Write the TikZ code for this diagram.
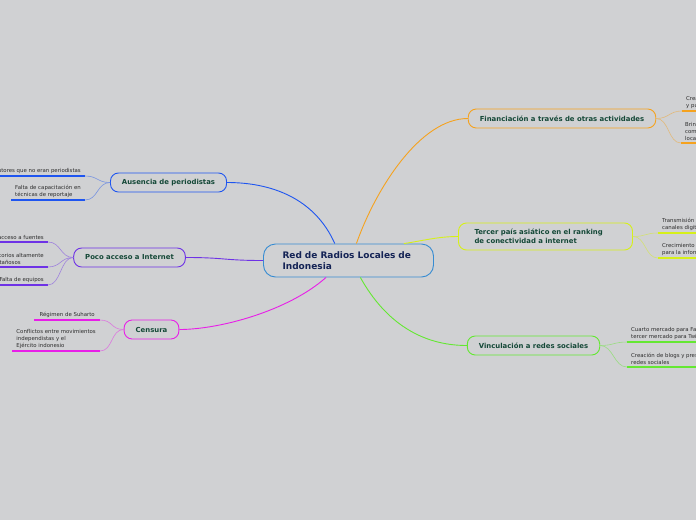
\documentclass[tikz,border=0pt]{standalone}
\usepackage{fontspec}
\setmainfont{DejaVu Sans}
\definecolor{bgcol}{RGB}{208,209,211}
\definecolor{rootcol}{RGB}{55,140,210}
\definecolor{roottext}{RGB}{20,35,85}
\definecolor{topictext}{RGB}{20,72,55}
\definecolor{subtext}{RGB}{45,45,45}
\definecolor{orangecol}{RGB}{245,162,30}
\definecolor{limecol}{RGB}{214,240,25}
\definecolor{greencol}{RGB}{100,232,50}
\definecolor{bluecol}{RGB}{30,85,240}
\definecolor{purplecol}{RGB}{110,50,230}
\definecolor{magentacol}{RGB}{232,30,232}
\tikzset{
  topic/.style={draw,line width=0.9pt,rounded corners=8pt,minimum height=19pt,inner xsep=11.5pt,
    font=\fontsize{6.9}{9}\selectfont\bfseries,text=topictext},
  sub/.style={inner xsep=4pt,inner ysep=2.5pt,align=left,font=\fontsize{5.4}{7}\selectfont,text=subtext},
  branch/.style={line width=0.9pt},
  twig/.style={line width=0.6pt},
  uline/.style={line width=1.5pt}
}
\begin{document}
\begin{tikzpicture}[x=1pt,y=-1pt]
\clip (0,0) rectangle (696,520);
\fill[bgcol] (0,0) rectangle (696,520);
% main topic and subtopics
\node[topic,draw=rootcol,text=roottext,font=\fontsize{9}{11}\selectfont\bfseries,align=left,
  text width=132pt,inner xsep=19pt,minimum height=33pt,rounded corners=12pt] (root) at (348.5,260.5)
  {Red de Radios Locales de\\Indonesia};
\node[topic,draw=orangecol] (fin) at (562,118.5) {Financiación a través de otras actividades};
\node[topic,draw=limecol,align=left,text width=142pt,inner xsep=16pt,minimum height=27pt] (ter) at (545.5,236.5)
  {Tercer país asiático en el ranking\\de conectividad a internet};
\node[topic,draw=greencol] (vin) at (533.5,345.5) {Vinculación a redes sociales};
\node[topic,draw=bluecol] (aus) at (168.5,182.5) {Ausencia de periodistas};
\node[topic,draw=purplecol] (poc) at (129.5,257.5) {Poco acceso a Internet};
\node[topic,draw=magentacol] (cen) at (151.5,329.5) {Censura};

\draw[branch,orangecol] (root.65) .. controls +(19,-54) and +(-48,0) .. (fin.west);
\draw[branch,limecol] (root.17) .. controls +(20,-3) and +(-20,0) .. (ter.west);
\draw[branch,greencol] (root.-55) .. controls +(25,45) and +(-45,0) .. (vin.west);
\draw[branch,bluecol] (root.129) .. controls +(-20,-45) and +(45,0) .. (aus.east);
\draw[branch,purplecol] (root.west) .. controls +(-40,0) and +(40,0) .. (poc.east);
\draw[branch,magentacol] (root.217) .. controls +(-37,33) and +(41,0) .. (cen.east);

% left side
\node[sub,anchor=south east] (aus1) at (85,176) {Locutores que no eran periodistas};
\node[sub,anchor=south east] (aus2) at (85,200) {Falta de capacitación en\\técnicas de reportaje};
\node[sub,anchor=south east] (poc1) at (48,242) {Difícil acceso a fuentes};
\node[sub,anchor=south east] (poc2) at (48,267) {Territorios altamente\\montañosos};
\node[sub,anchor=south east] (poc3) at (48,285) {Falta de equipos};
\node[sub,anchor=south east,inner xsep=5pt] (cen1) at (100,320) {Régimen de Suharto};
\node[sub,anchor=south east,inner xsep=4pt] (cen2) at (100,351) {Conflictos entre movimientos\\independistas y el\\Ejército indonesio};
\foreach \n/\c in {aus1/bluecol,aus2/bluecol,poc1/purplecol,poc2/purplecol,poc3/purplecol,cen1/magentacol,cen2/magentacol}
  \draw[uline,\c] (\n.south west) -- (\n.south east);
\foreach \t/\n/\c in {aus/aus1/bluecol,aus/aus2/bluecol,poc/poc1/purplecol,poc/poc2/purplecol,poc/poc3/purplecol,cen/cen1/magentacol,cen/cen2/magentacol}
  \draw[twig,\c!50!bgcol] (\t.west) .. controls +(-13,0) and +(13,0) .. (\n.south east);

% right side
\node[sub,anchor=south west] (fin1) at (682,111) {Creación de contenidos\\y publicidad};
\node[sub,anchor=south west] (fin2) at (681,143) {Brindar servicios de\\comunicación a empresas\\locales};
\node[sub,anchor=south west] (ter1) at (658,233) {Transmisión por\\canales digitales};
\node[sub,anchor=south west] (ter2) at (658,258) {Crecimiento de la demanda\\para la información};
\node[sub,anchor=south west] (vin1) at (627,342) {Cuarto mercado para Facebook y\\tercer mercado para Twitter};
\node[sub,anchor=south west] (vin2) at (627,367) {Creación de blogs y presencia en\\redes sociales};
\foreach \n/\c in {fin1/orangecol,fin2/orangecol,ter1/limecol,ter2/limecol,vin1/greencol,vin2/greencol}
  \draw[uline,\c] (\n.south west) -- (\n.south east);
\foreach \t/\n/\c in {fin/fin1/orangecol,fin/fin2/orangecol,ter/ter1/limecol,ter/ter2/limecol,vin/vin1/greencol,vin/vin2/greencol}
  \draw[twig,\c!50!bgcol] (\t.east) .. controls +(13,0) and +(-13,0) .. (\n.south west);
\end{tikzpicture}
\end{document}
